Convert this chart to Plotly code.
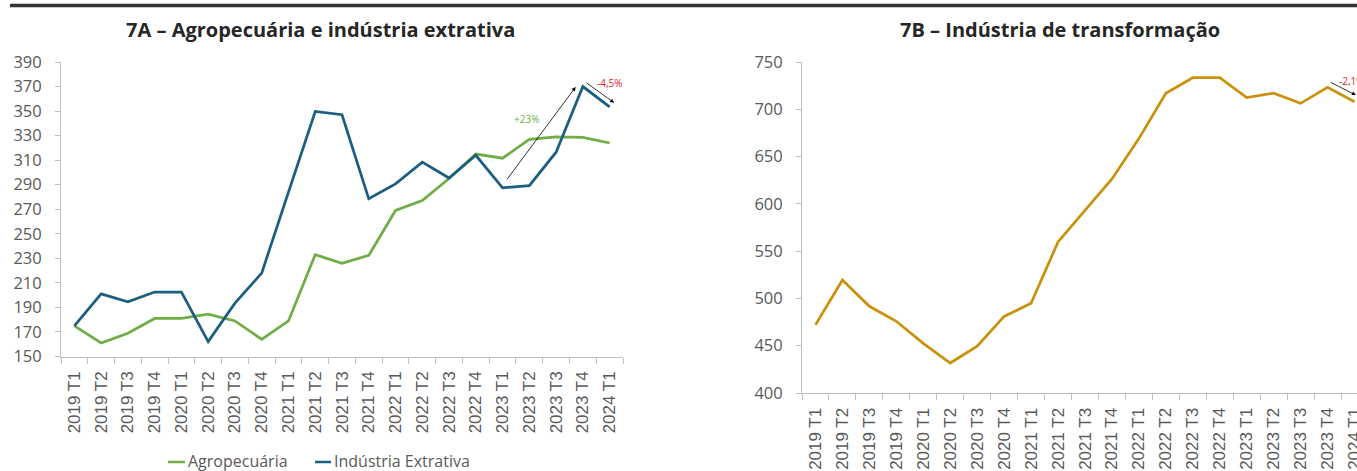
import plotly.graph_objects as go

quarters = ["2019 T1", "2019 T2", "2019 T3", "2019 T4",
            "2020 T1", "2020 T2", "2020 T3", "2020 T4",
            "2021 T1", "2021 T2", "2021 T3", "2021 T4",
            "2022 T1", "2022 T2", "2022 T3", "2022 T4",
            "2023 T1", "2023 T2", "2023 T3", "2023 T4",
            "2024 T1"]

agro = [175, 161, 169, 181, 181, 184.5, 179, 164, 179, 233, 226, 232.4,
        269, 277, 295, 315, 311.6, 327, 329, 328.5, 324]
extrativa = [175, 201, 194.6, 202.5, 202.5, 162.2, 193.5, 218, 284, 349.7, 347, 278.5,
             290.7, 308.4, 295.5, 314, 287.5, 289.3, 316.5, 370, 353.5]
transformacao = [472, 519.5, 491.7, 475.8, 452.5, 431.7, 449.4, 481, 494.8, 559.7, 593,
                 626.3, 669, 717, 733.4, 733.4, 712.3, 717, 706.3, 723.2, 708]

left_ticks = list(range(150, 391, 20))
right_ticks = list(range(400, 751, 50))

W, H = 1357, 471
GREEN = "#70ad47"
BLUE = "#1b5e80"
GOLD = "#c8920c"
GRAY = "#595959"
AXIS = "#bfbfbf"


def px(x):
    return x / W


def py(y):
    return 1 - y / H


fig = go.Figure()
fig.add_trace(go.Scatter(x=quarters, y=agro, mode="lines", name="Agropecuária",
                         line=dict(color=GREEN, width=2.75), xaxis="x", yaxis="y"))
fig.add_trace(go.Scatter(x=quarters, y=extrativa, mode="lines", name="Indústria Extrativa",
                         line=dict(color=BLUE, width=2.75), xaxis="x", yaxis="y"))
fig.add_trace(go.Scatter(x=quarters, y=transformacao, mode="lines", name="Indústria de transformação",
                         line=dict(color=GOLD, width=2.75), xaxis="x2", yaxis="y2"))

xcommon = dict(type="category", categoryorder="array", categoryarray=quarters,
               showline=True, linecolor=AXIS, linewidth=1, ticks="outside",
               tickson="boundaries", ticklen=6, tickcolor=AXIS, tickangle=-90,
               showgrid=False, zeroline=False, automargin=False,
               ticklabelstandoff=7,
               tickfont=dict(family="Liberation Sans, Arial", size=17, color=GRAY))
ycommon = dict(showline=True, linecolor=AXIS, linewidth=1, ticks="outside",
               ticklen=5, tickcolor=AXIS, showgrid=False, zeroline=False,
               ticklabelstandoff=10, automargin=False,
               tickfont=dict(family="Open Sans", size=16.5, color=GRAY))

fig.update_layout(
    width=W, height=H, autosize=False,
    margin=dict(l=0, r=0, t=0, b=0, pad=0),
    paper_bgcolor="white", plot_bgcolor="white",
    showlegend=False,
    xaxis=dict(xcommon, domain=[px(61), px(623)], range=[-0.5, 20.5], anchor="y"),
    yaxis=dict(ycommon, domain=[py(356.5), py(62)], range=[150, 390],
               tickvals=left_ticks, anchor="x"),
    xaxis2=dict(xcommon, domain=[px(802), 1.0], range=[-0.5, -0.5 + (W - 802) / 26.95],
                anchor="y2"),
    yaxis2=dict(ycommon, domain=[py(393), py(62)], range=[400, 750],
                tickvals=right_ticks, anchor="x2"),
)

# top rule
fig.add_shape(type="line", xref="paper", yref="paper", x0=px(10), x1=1.0,
              y0=py(5.5), y1=py(5.5), line=dict(color="#333333", width=3.5))

# titles
fig.add_annotation(text="<b>7A – Agropecuária e indústria extrativa</b>", xref="paper", yref="paper",
                   x=px(320), y=py(30), xanchor="center", yanchor="middle", showarrow=False,
                   font=dict(family="Open Sans", size=20, color="#262626"))
fig.add_annotation(text="<b>7B – Indústria de transformação</b>", xref="paper", yref="paper",
                   x=px(1060), y=py(30), xanchor="center", yanchor="middle", showarrow=False,
                   font=dict(family="Open Sans", size=20, color="#262626"))

# arrows + labels, left chart
fig.add_annotation(xref="x", yref="y", axref="x", ayref="y",
                   x=18.73, y=369.6, ax=16.13, ay=293.3, text="", showarrow=True,
                   arrowhead=2, arrowsize=1, arrowwidth=0.8, arrowcolor="black")
fig.add_annotation(xref="x", yref="y", x=16.9, y=343.5, text="+23%", showarrow=False,
                   font=dict(family="Open Sans", size=10, color=GREEN))
fig.add_annotation(xref="x", yref="y", axref="x", ayref="y",
                   x=20.17, y=356.8, ax=19.08, ay=373.9, text="", showarrow=True,
                   arrowhead=2, arrowsize=1, arrowwidth=0.8, arrowcolor="black")
fig.add_annotation(xref="x", yref="y", x=20.0, y=372.9, text="-4,5%", showarrow=False,
                   font=dict(family="Open Sans", size=10, color="#e3202a"))

# arrow + label, right chart
fig.add_annotation(xref="x2", yref="y2", axref="x2", ayref="y2",
                   x=20.05, y=715, ax=19.07, ay=729.2, text="", showarrow=True,
                   arrowhead=2, arrowsize=1, arrowwidth=0.8, arrowcolor="black")
fig.add_annotation(xref="x2", yref="y2", x=19.35, y=730.2, xanchor="left", text="-2,1%",
                   showarrow=False, font=dict(family="Open Sans", size=10, color="#e3202a"))

# manual legend
for x0, x1, col, label in [(168, 185, GREEN, "Agropecuária"), (315, 331, BLUE, "Indústria Extrativa")]:
    fig.add_shape(type="line", xref="paper", yref="paper", x0=px(x0), x1=px(x1),
                  y0=py(462), y1=py(462), line=dict(color=col, width=2.5))
    fig.add_annotation(text=label, xref="paper", yref="paper", x=px(x1 + 0.5), y=py(461),
                       xanchor="left", yanchor="middle", showarrow=False,
                       font=dict(family="Open Sans", size=16, color=GRAY))

fig.write_html(
    "out.html",
    config={"displayModeBar": False, "responsive": False},
    post_script="document.body.style.margin='0';document.body.style.padding='0';"
                "document.body.style.overflow='hidden';",
)
